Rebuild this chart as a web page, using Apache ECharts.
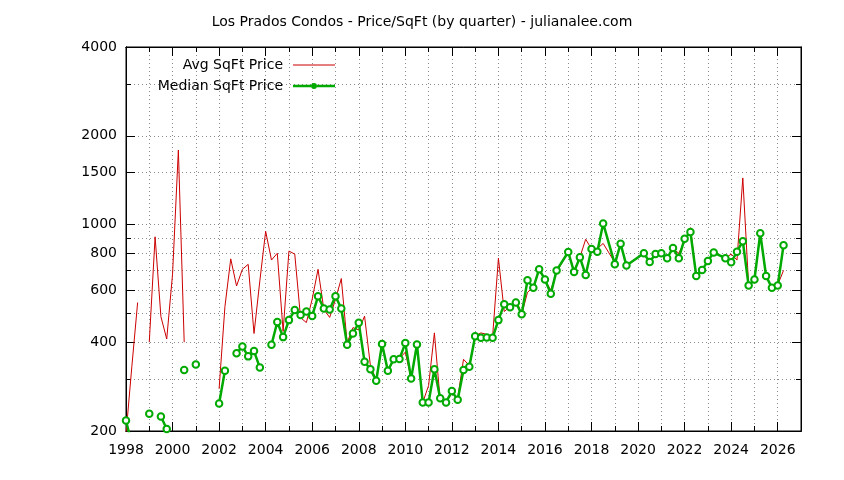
<!DOCTYPE html>
<html>
<head>
<meta charset="utf-8">
<script src="https://cdn.jsdelivr.net/npm/echarts@6/dist/echarts.min.js"></script>
<style>
  html, body { margin: 0; padding: 0; background: #fff; }
  #main { width: 844px; height: 480px; }
</style>
</head>
<body>
<div id="main"></div>
<script>
// quarter (decimal year) and price per sqft, null = no sales that quarter
var quarters = [
    1998.00, 1998.25, 1998.50, 1998.75, 1999.00, 1999.25, 1999.50, 1999.75,
    2000.00, 2000.25, 2000.50, 2000.75, 2001.00, 2001.25, 2001.50, 2001.75,
    2002.00, 2002.25, 2002.50, 2002.75, 2003.00, 2003.25, 2003.50, 2003.75,
    2004.00, 2004.25, 2004.50, 2004.75, 2005.00, 2005.25, 2005.50, 2005.75,
    2006.00, 2006.25, 2006.50, 2006.75, 2007.00, 2007.25, 2007.50, 2007.75,
    2008.00, 2008.25, 2008.50, 2008.75, 2009.00, 2009.25, 2009.50, 2009.75,
    2010.00, 2010.25, 2010.50, 2010.75, 2011.00, 2011.25, 2011.50, 2011.75,
    2012.00, 2012.25, 2012.50, 2012.75, 2013.00, 2013.25, 2013.50, 2013.75,
    2014.00, 2014.25, 2014.50, 2014.75, 2015.00, 2015.25, 2015.50, 2015.75,
    2016.00, 2016.25, 2016.50, 2017.00, 2017.25, 2017.50, 2017.75,
    2018.00, 2018.25, 2018.50, 2019.00, 2019.25, 2019.50,
    2020.25, 2020.50, 2020.75, 2021.00, 2021.25, 2021.50, 2021.75,
    2022.00, 2022.25, 2022.50, 2022.75, 2023.00, 2023.25, 2023.75,
    2024.00, 2024.25, 2024.50, 2024.75, 2025.00, 2025.25, 2025.50, 2025.75,
    2026.00, 2026.25
];
var avgPrice = [
    195, 330, 545, null, 400, 910, 488, 410,
    680, 1790, 400, null, null, null, null, null,
    278, 528, 766, 620, 706, 734, 428, 645,
    950, 759, 800, 435, 814, 795, 484, 466,
    560, 706, 517, 485, 558, 657, 398, 448,
    440, 490, 333, 298, 396, 316, 350, 352,
    370, 301, 388, 250, 285, 430, 253, 250,
    268, 258, 350, 333, 420, 430, 425, 418,
    770, 508, 528, 561, 497, 590, 615, 700,
    650, 600, 690, 808, 700, 775, 893,
    827, 830, 864, 745, 860, 730,
    800, 750, 795, 800, 775, 830, 800,
    880, 977, 670, 702, 754, 805, 770,
    795, 759, 1440, 622, 652, 935, 670, 611,
    625, 700
];
var medianPrice = [
    217, 180, null, null, 229, null, 224, 203,
    null, null, 322, null, 336, null, null, null,
    248, 320, null, 367, 387, 358, 373, 328,
    null, 392, 468, 416, 475, 514, 494, 508,
    491, 572, 520, 516, 572, 520, 392, 428,
    465, 343, 324, 296, 394, 320, 350, 351,
    397, 301, 393, 250, 250, 324, 258, 250,
    273, 255, 322, 330, 419, 414, 415, 414,
    475, 538, 525, 545, 497, 648, 611, 707,
    652, 583, 700, 808, 691, 775, 675,
    827, 810, 1010, 735, 862, 727,
    800, 747, 795, 800, 770, 834, 770,
    897, 944, 670, 702, 754, 805, 770,
    746, 810, 879, 622, 652, 935, 670, 611,
    622, 852
];
var yLabels = [200, 400, 600, 800, 1000, 1500, 2000, 4000];
var yGridValues = [200, 300, 400, 500, 600, 700, 800, 900, 1000, 1500, 2000, 3000, 4000];
var xLabels = [1998, 2000, 2002, 2004, 2006, 2008, 2010, 2012, 2014, 2016, 2018, 2020, 2022, 2024, 2026];

var FONT = 'DejaVu Sans';
var RED = '#cc0000';
var GREEN = '#00aa00';

var avgData = [], medianData = [];
for (var i = 0; i < quarters.length; i++) {
    avgData.push([quarters[i], avgPrice[i]]);
    medianData.push([quarters[i], medianPrice[i]]);
}

var myChart = echarts.init(document.getElementById('main'), null, { renderer: 'canvas' });

function plainNumber(v) { return String(Math.round(v)); }

function xAxisCfg(pos, tickValues, tickLen, withLabels, withGrid) {
    return {
        type: 'value', position: pos, min: 1998, max: 2027, interval: 1,
        axisLine: { show: true, onZero: false, lineStyle: { color: '#000', width: 1 } },
        axisTick: { show: true, inside: true, length: tickLen, customValues: tickValues,
            lineStyle: { color: '#000', width: 1 } },
        axisLabel: { show: withLabels, customValues: xLabels, formatter: plainNumber,
            color: '#000', fontFamily: FONT, fontSize: 14, margin: 12 },
        splitLine: { show: withGrid, lineStyle: { color: '#8c8c8c', type: [1, 3], width: 1 } },
        minorTick: { show: false }
    };
}
function yAxisCfg(pos, tickValues, tickLen, withLabels, withGrid) {
    return {
        type: 'log', logBase: 10, position: pos, min: 200, max: 4000,
        axisLine: { show: true, onZero: false, lineStyle: { color: '#000', width: 1 } },
        axisTick: { show: true, inside: true, length: tickLen, customValues: tickValues,
            lineStyle: { color: '#000', width: 1 } },
        axisLabel: { show: withLabels, customValues: yLabels, formatter: plainNumber,
            color: '#000', fontFamily: FONT, fontSize: 14, margin: 9 },
        splitLine: { show: withGrid, lineStyle: { color: '#8c8c8c', type: [1, 3], width: 1 } }
    };
}

var allYears = [];
for (var y = 1998; y <= 2027; y++) allYears.push(y);

// legend marker for the median series: thick line with a dot in the middle
var medianIcon = 'path://M0,4.5L18,4.5L18,7L0,7Z M24,4.5L42,4.5L42,7L24,7Z ' +
    'M18,5.75A3,3 0 1,1 24,5.75A3,3 0 1,1 18,5.75Z';

var option = {
    animation: false,
    backgroundColor: '#fff',
    title: {
        text: 'Los Prados Condos - Price/SqFt (by quarter) - julianalee.com',
        left: 'center', top: 10,
        textStyle: { fontFamily: FONT, fontSize: 14, fontWeight: 'normal', color: '#000' }
    },
    legend: [
        {
            data: [{ name: 'Avg SqFt Price', icon: 'rect' }],
            right: 509, top: 58, padding: 0,
            align: 'right', itemWidth: 42, itemHeight: 1, selectedMode: false,
            itemStyle: { color: RED, borderWidth: 0 },
            textStyle: { fontFamily: FONT, fontSize: 14, color: '#000', padding: [0, 5, 0, 0],
                lineHeight: 14 }
        },
        {
            data: [{ name: 'Median SqFt Price', icon: medianIcon }],
            right: 509, top: 79, padding: 0,
            align: 'right', itemWidth: 42, itemHeight: 6, selectedMode: false,
            itemStyle: { color: GREEN, borderWidth: 0 },
            textStyle: { fontFamily: FONT, fontSize: 14, color: '#000', padding: [0, 5, 0, 0],
                lineHeight: 14 }
        }
    ],
    grid: {
        left: 126, right: 43, top: 47, bottom: 49,
        containLabel: false, outerBoundsMode: 'none',
        show: true, borderColor: '#000', borderWidth: 1, backgroundColor: 'transparent'
    },
    xAxis: [
        xAxisCfg('bottom', allYears, 5, true, true),
        xAxisCfg('bottom', xLabels, 9, false, false),
        xAxisCfg('top', allYears, 5, false, false),
        xAxisCfg('top', xLabels, 9, false, false)
    ],
    yAxis: [
        yAxisCfg('left', yGridValues, 5, true, true),
        yAxisCfg('left', yLabels, 9, false, false),
        yAxisCfg('right', yGridValues, 5, false, false),
        yAxisCfg('right', yLabels, 9, false, false)
    ],
    series: [
        {
            name: 'Avg SqFt Price',
            type: 'line',
            data: avgData,
            symbol: 'none',
            connectNulls: false,
            clip: true,
            lineStyle: { color: RED, width: 1 },
            itemStyle: { color: RED },
            z: 3
        },
        {
            name: 'Median SqFt Price',
            type: 'line',
            data: medianData,
            symbol: 'emptyCircle',
            symbolSize: 6.5,
            connectNulls: false,
            clip: true,
            lineStyle: { color: GREEN, width: 2.5 },
            itemStyle: { color: GREEN, borderWidth: 1.8 },
            z: 4
        }
    ]
};

myChart.setOption(option);
</script>
</body>
</html>
